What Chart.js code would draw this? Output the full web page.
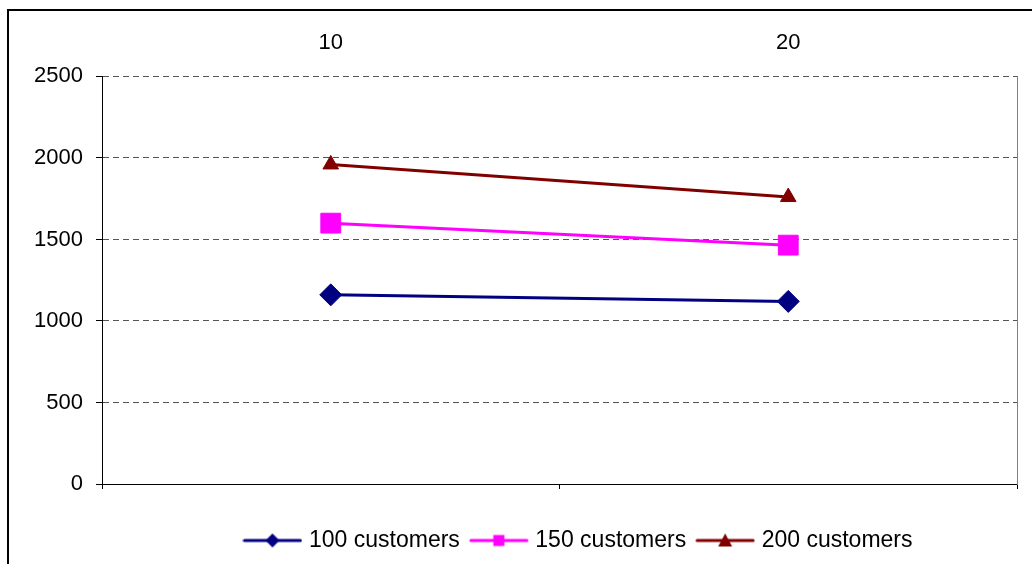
<!DOCTYPE html>
<html lang="en">
<head>
    <meta charset="UTF-8">
    <title>Customers chart</title>
    <script src="https://cdn.jsdelivr.net/npm/chart.js"></script>
    <style>
        body {
            margin: 0;
            overflow: hidden;
            background: #fff;
        }
        #wrap {
            position: relative;
            width: 1032px;
            height: 564px;
        }
        #frame {
            position: absolute;
            left: 7px;
            top: 9px;
            width: 2000px;
            height: 2000px;
            border: 2px solid #000;
            pointer-events: none;
        }
    </style>
</head>
<body>
    <div id="wrap">
        <canvas id="lineChart" width="1032" height="564"></canvas>
        <div id="frame"></div>
    </div>

    <script>
        // data
        const categories = ['10', '20'];
        const seriesNames = ['100 customers', '150 customers', '200 customers'];
        const customers100 = [1160, 1120];
        const customers150 = [1600, 1465];
        const customers200 = [1960, 1760];
        const yTicks = [0, 500, 1000, 1500, 2000, 2500];

        const colors = ['#000080', '#FF00FF', '#800000'];
        const FONT = 'Liberation Sans, Arial, sans-serif';

        Chart.defaults.color = '#000';
        Chart.defaults.font.family = FONT;
        Chart.defaults.font.size = 22;

        // legend icon: line with the marker in the middle
        function makeIcon(color, shape) {
            const c = document.createElement('canvas');
            c.width = 60;
            c.height = 24;
            const g = c.getContext('2d');
            g.strokeStyle = color;
            g.fillStyle = color;
            g.lineWidth = 3;
            g.lineCap = 'round';
            g.beginPath();
            g.moveTo(2, 12);
            g.lineTo(58, 12);
            g.stroke();
            g.beginPath();
            if (shape === 'diamond') {
                g.moveTo(30, 5); g.lineTo(37, 12); g.lineTo(30, 19); g.lineTo(23, 12);
            } else if (shape === 'square') {
                g.rect(24.5, 6.5, 11, 11);
            } else {
                g.moveTo(30, 5); g.lineTo(37, 18); g.lineTo(23, 18);
            }
            g.closePath();
            g.fill();
            return c;
        }
        const legendIcons = [
            makeIcon(colors[0], 'diamond'),
            makeIcon(colors[1], 'square'),
            makeIcon(colors[2], 'triangle')
        ];

        const LEGEND_SHIFT = 53;
        const legendShift = {
            id: 'legendShift',
            afterLayout(chart) {
                chart.legend.left += LEGEND_SHIFT;
                chart.legend.right += LEGEND_SHIFT;
            }
        };

        const ctx = document.getElementById('lineChart').getContext('2d');
        new Chart(ctx, {
            type: 'line',
            data: {
                labels: categories,
                datasets: [
                    {
                        label: seriesNames[0],
                        data: customers100,
                        borderColor: colors[0],
                        backgroundColor: colors[0],
                        borderWidth: 3,
                        pointStyle: 'rectRot',
                        pointRadius: 11,
                        pointBorderWidth: 1
                    },
                    {
                        label: seriesNames[1],
                        data: customers150,
                        borderColor: colors[1],
                        backgroundColor: colors[1],
                        borderWidth: 3,
                        pointStyle: 'rect',
                        pointRadius: 14,
                        pointBorderWidth: 1
                    },
                    {
                        label: seriesNames[2],
                        data: customers200,
                        borderColor: colors[2],
                        backgroundColor: colors[2],
                        borderWidth: 3,
                        pointStyle: 'triangle',
                        pointRadius: 9,
                        pointBorderWidth: 1
                    }
                ]
            },
            options: {
                responsive: false,
                animation: false,
                layout: {
                    padding: { top: 10, left: 34, right: 12, bottom: 2 }
                },
                plugins: {
                    tooltip: { enabled: false },
                    legend: {
                        position: 'bottom',
                        labels: {
                            usePointStyle: true,
                            pointStyleWidth: 50,
                            padding: 14,
                            font: { size: 23 },
                            generateLabels(chart) {
                                const items = Chart.defaults.plugins.legend.labels.generateLabels(chart);
                                items.forEach((it, i) => { it.pointStyle = legendIcons[i]; });
                                return items;
                            }
                        }
                    }
                },
                scales: {
                    x: {
                        type: 'category',
                        position: 'top',
                        offset: true,
                        grid: { display: false, drawTicks: false },
                        border: { display: false },
                        ticks: { padding: 20, maxRotation: 0 }
                    },
                    x2: {
                        type: 'category',
                        position: 'bottom',
                        labels: categories,
                        offset: true,
                        afterFit(scale) { scale.height = 31; },
                        grid: {
                            offset: true,
                            drawOnChartArea: false,
                            tickLength: 5,
                            color: '#000'
                        },
                        border: { color: '#000', width: 1 },
                        ticks: { display: false }
                    },
                    y: {
                        min: yTicks[0],
                        max: yTicks[yTicks.length - 1],
                        afterBuildTicks(scale) {
                            scale.ticks = yTicks.map(v => ({ value: v }));
                        },
                        afterFit(scale) { scale.width = 68; },
                        ticks: {
                            padding: 13,
                            callback: v => String(v)
                        },
                        grid: {
                            color: '#555',
                            tickLength: 6,
                            tickColor: '#000',
                            tickBorderDash: []
                        },
                        border: { color: '#000', width: 1, dash: [6, 4] }
                    },
                    y2: {
                        position: 'right',
                        afterFit(scale) { scale.width = 0; },
                        ticks: { display: false },
                        grid: { drawOnChartArea: false, drawTicks: false },
                        border: { color: '#808080', width: 1 }
                    }
                }
            },
            plugins: [legendShift]
        });
    </script>
</body>
</html>
